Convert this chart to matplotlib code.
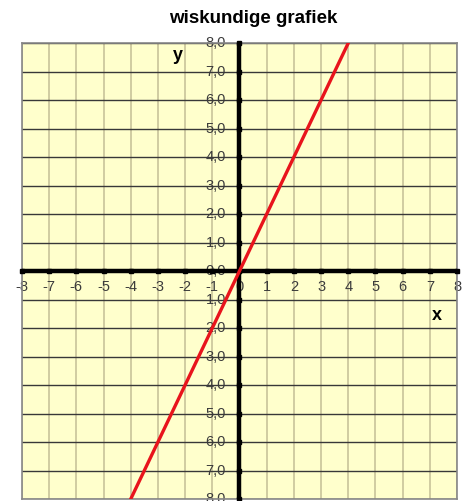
import numpy as np
import matplotlib.pyplot as plt

plt.rcParams['font.family'] = ['Liberation Sans', 'DejaVu Sans']

# data: the line y = 2x, drawn between its two end points
line_x = [-4, 4]
line_y = [-8, 8]
x_ticks = list(range(-8, 9))
y_ticks = list(range(-8, 9))

fig = plt.figure(figsize=(4.68, 5.01), dpi=100)
ax = fig.add_axes([0.047, 0.004, 0.9295, 0.910])
ax.set_facecolor('#ffffcc')
ax.set_xlim(-8, 8)
ax.set_ylim(-8, 8)

# grid: khaki verticals, dark horizontals
for xv in x_ticks:
    ax.axvline(xv, color='#c8c49a', lw=1.2, zorder=1)
for yv in y_ticks:
    ax.axhline(yv, color='#383838', lw=1, zorder=1)

for s in ax.spines.values():
    s.set_color('#888888')
    s.set_linewidth(1.2)

# axes through the origin
ax.axhline(0, color='black', lw=3.2, zorder=3)
ax.axvline(0, color='black', lw=3.2, zorder=3)
ax.plot(x_ticks, [0] * len(x_ticks), 's', color='black', ms=3.5, zorder=3, clip_on=False)
ax.plot([0] * len(y_ticks), y_ticks, 's', color='black', ms=3.5, zorder=3, clip_on=False)

ax.set_xticks([])
ax.set_yticks([])

for xv in x_ticks:
    ax.text(xv, -0.3, str(xv), ha='center', va='top', fontsize=10.5, color='#3c3c3c', zorder=2)
for yv in y_ticks:
    ax.text(-0.5, yv, f"{abs(yv)},0", ha='right', va='center', fontsize=10.5, color='#3c3c3c', zorder=2)

ax.plot(line_x, line_y, color='#e8141c', lw=2.4, zorder=4)

ax.text(-2.25, 7.55, 'y', fontsize=13, fontweight='bold', ha='center', va='center')
ax.text(7.25, -1.55, 'x', fontsize=13, fontweight='bold', ha='center', va='center')

fig.text(0.541, 0.964, 'wiskundige grafiek', ha='center', va='center', fontsize=13.5, fontweight='bold')

fig.savefig('out.png', dpi=100)
